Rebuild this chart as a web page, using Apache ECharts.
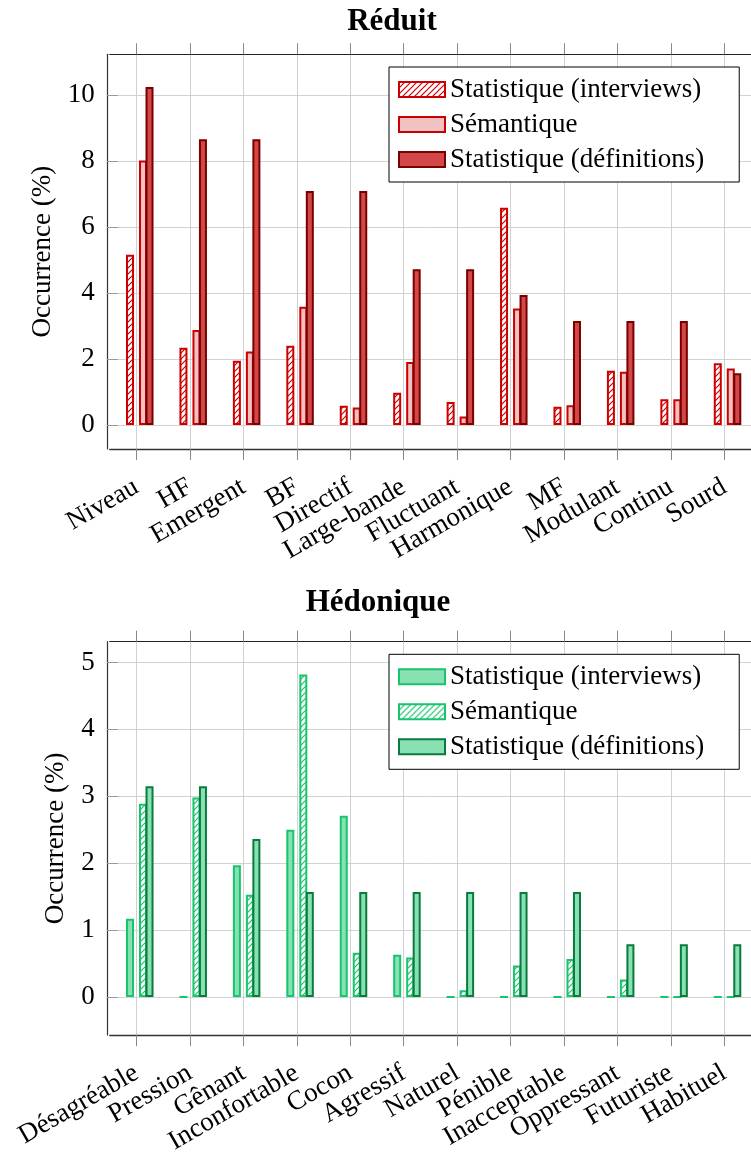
<!DOCTYPE html>
<html><head><meta charset="utf-8">
<script src="https://cdn.jsdelivr.net/npm/echarts@6/dist/echarts.min.js"></script>
<style>
html,body{margin:0;padding:0;background:#fff;width:751px;height:1157px;overflow:hidden}
#c1{position:absolute;left:0;top:0;width:751px;height:578px}
#c2{position:absolute;left:0;top:578px;width:751px;height:579px}
</style>
</head><body><div id="c1"></div><div id="c2"></div>
<script>
const seriesNames = ['Statistique (interviews)', 'Sémantique', 'Statistique (définitions)'];

const reduitCategories = ['Niveau','HF','Emergent','BF','Directif','Large-bande','Fluctuant','Harmonique','MF','Modulant','Continu','Sourd'];
const reduitInterviews = [5.16, 2.34, 1.95, 2.40, 0.58, 0.98, 0.70, 6.58, 0.55, 1.64, 0.78, 1.87];
const reduitSemantique = [8.01, 2.88, 2.23, 3.58, 0.53, 1.91, 0.26, 3.53, 0.60, 1.61, 0.78, 1.71];
const reduitDefinitions = [10.24, 8.66, 8.66, 7.09, 7.09, 4.72, 4.72, 3.94, 3.15, 3.15, 3.15, 1.57];

const hedoCategories = ['Désagréable','Pression','Gênant','Inconfortable','Cocon','Agressif','Naturel','Pénible','Inacceptable','Oppressant','Futuriste','Habituel'];
const hedoInterviews = [1.17, 0, 1.97, 2.50, 2.71, 0.63, 0, 0, 0, 0, 0, 0];
const hedoSemantique = [2.89, 2.98, 1.53, 4.82, 0.66, 0.59, 0.10, 0.47, 0.57, 0.26, 0, 0];
const hedoDefinitions = [3.15, 3.15, 2.36, 1.57, 1.57, 1.57, 1.57, 1.57, 1.57, 0.79, 0.79, 0.79];

const FONT = '"Liberation Serif", "Times New Roman", serif';
const FS = 27;

function hatch(color) {
  const s = 6, c = document.createElement('canvas');
  c.width = s; c.height = s;
  const g = c.getContext('2d');
  g.fillStyle = '#fff'; g.fillRect(0, 0, s, s);
  g.strokeStyle = color; g.lineWidth = 1.2;
  g.beginPath();
  g.moveTo(0, s); g.lineTo(s, 0);
  g.moveTo(-s / 2, s / 2); g.lineTo(s / 2, -s / 2);
  g.moveTo(s / 2, s * 1.5); g.lineTo(s * 1.5, s / 2);
  g.stroke();
  return { image: c, repeat: 'repeat' };
}

function build(el, cfg) {
  const chart = echarts.init(el, null, { renderer: 'canvas' });
  const BW = 8, GAP = '-18.75%';
  const common = { type: 'bar', barWidth: BW, barGap: GAP, xAxisIndex: 0, yAxisIndex: 0 };
  const dummy = (n) => Object.assign({}, common, { name: n, data: [], silent: true });
  const real = (name, data, style) => Object.assign({}, common, {
    name: name, data: data, itemStyle: Object.assign({ borderWidth: 2 }, style)
  });
  const series = [
    dummy('_g1'),
    real(seriesNames[0], cfg.a, cfg.styleA),
    dummy('_g2'),
    real(seriesNames[1], cfg.b, cfg.styleB),
    real(seriesNames[2], cfg.c, cfg.styleC)
  ];
  const option = {
    animation: false,
    backgroundColor: '#fff',
    title: {
      text: cfg.title, left: cfg.titleX, top: cfg.titleTop, textAlign: 'center', padding: 0,
      textStyle: { fontFamily: FONT, fontSize: 31, fontWeight: 'bold', color: '#000' }
    },
    legend: {
      data: seriesNames, orient: 'vertical', left: 389, top: cfg.legendTop,
      backgroundColor: '#fff', borderColor: '#000', borderWidth: 1, borderRadius: 0,
      padding: [9, 35, 9, 9], itemWidth: 46, itemHeight: 15, itemGap: 8,
      icon: 'rect', selectedMode: false,
      textStyle: { fontFamily: FONT, fontSize: FS, color: '#000', lineHeight: 26 }
    },
    grid: { left: 109.8, right: -5.2, top: cfg.gridTop, bottom: cfg.gridBottom, containLabel: false },
    xAxis: [{
      type: 'category', data: cfg.categories, boundaryGap: true, position: 'bottom',
      axisLine: { show: true, onZero: false, lineStyle: { color: '#333', width: 1.4 } },
      axisTick: { show: true, alignWithLabel: true, interval: 0, length: 11, inside: false, lineStyle: { color: '#888', width: 1 } },
      axisLabel: { interval: 0, rotate: 30, margin: 36, fontFamily: FONT, fontSize: FS, color: '#000' },
      splitLine: { show: true, interval: 0, alignWithLabel: true, lineStyle: { color: '#d2d2d2', width: 1 } }
    }, {
      type: 'category', data: cfg.categories, boundaryGap: true, position: 'top',
      axisLine: { show: true, onZero: false, lineStyle: { color: '#222', width: 1.2 } },
      axisTick: { show: true, alignWithLabel: true, interval: 0, length: 11, inside: false, lineStyle: { color: '#888' } },
      axisLabel: { show: false }, splitLine: { show: false }
    }],
    yAxis: [{
      type: 'value', min: cfg.yMin, max: cfg.yMax, offset: 3,
      name: 'Occurrence (%)', nameLocation: 'middle', nameGap: 37,
      nameTextStyle: { fontFamily: FONT, fontSize: FS, color: '#000' },
      axisLine: { show: true, onZero: false, lineStyle: { color: '#333', width: 1.2 } },
      axisTick: { show: true, inside: true, length: 11, lineStyle: { color: '#999' } },
      axisLabel: { margin: 12, fontFamily: FONT, fontSize: FS, color: '#000', showMinLabel: false, showMaxLabel: false },
      splitLine: { show: true, lineStyle: { color: '#d2d2d2', width: 1 } }
    }],
    series: series
  };
  chart.setOption(option);
}

build(document.getElementById('c1'), {
  title: 'Réduit', titleX: 392, titleTop: 6, legendTop: 67,
  gridTop: 54.3, gridBottom: 578 - 449, yMin: -0.727, yMax: 11.23,
  categories: reduitCategories,
  a: reduitInterviews, b: reduitSemantique, c: reduitDefinitions,
  styleA: { color: hatch('#cc0000'), borderColor: '#cc0000' },
  styleB: { color: '#f0c2c2', borderColor: '#cc0000' },
  styleC: { color: '#d24848', borderColor: '#7a0000' }
});

build(document.getElementById('c2'), {
  title: 'Hédonique', titleX: 378, titleTop: 9, legendTop: 76.3,
  gridTop: 63.7, gridBottom: 579 - 464.5, yMin: -0.569, yMax: 5.31,
  categories: hedoCategories,
  a: hedoInterviews, b: hedoSemantique, c: hedoDefinitions,
  styleA: { color: '#88e1b2', borderColor: '#18c46c' },
  styleB: { color: hatch('#18c46c'), borderColor: '#18c46c' },
  styleC: { color: '#88e1b2', borderColor: '#0b7a3e' }
});
</script>
</body></html>
